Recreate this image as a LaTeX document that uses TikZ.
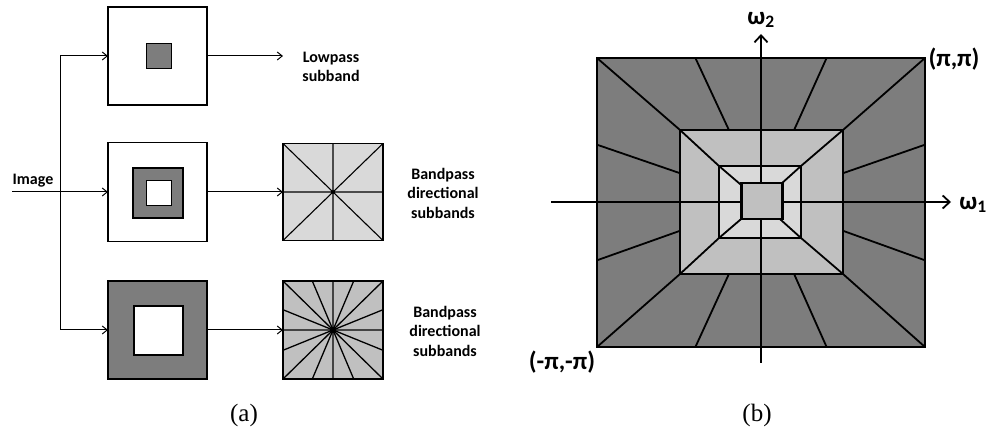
\documentclass[tikz,border=0pt]{standalone}
\usepackage{fontspec}
\setmainfont{Carlito}
\newfontfamily\capfont{Liberation Serif}
\usetikzlibrary{arrows.meta,positioning,calc}
\definecolor{band}{RGB}{125,125,125}
\definecolor{ring}{RGB}{192,192,192}
\definecolor{pale}{RGB}{217,217,217}

\begin{document}
\begin{tikzpicture}[x=1pt,y=-1pt,>={Straight Barb[length=5pt,width=8pt]},
  font=\bfseries\fontsize{16}{19.5}\selectfont,
  sq/.style={draw,line width=1.1pt,inner sep=0pt,outer sep=0pt},
  arr/.style={->,line width=1pt},
  ray/.style={line width=1.8pt},
  axis/.style={-{Straight Barb[length=7pt,width=13pt]},line width=1.8pt},
  lbl/.style={align=center,inner sep=0pt},
  greek/.style={inner sep=0pt,font=\bfseries\fontsize{25}{25}\selectfont},
  figcap/.style={inner sep=0pt,font=\capfont\fontsize{25}{25}\selectfont}]
\useasboundingbox (0,0) rectangle (996,435);
% (a) filter bank
\node[sq,minimum width=99pt,minimum height=98pt] (lp) at (157.5,56) {};
\node[sq,fill=band,minimum size=25pt] (lpin) at (159,56) {};
\node[sq,minimum width=99pt,minimum height=99pt] (bp1) at (157.5,192) {};
\node[sq,fill=band,minimum size=50pt] (bp1out) at (158,193) {};
\node[sq,fill=white,minimum size=25pt] (bp1in) at (159,193) {};
\node[sq,fill=band,minimum width=99pt,minimum height=98pt] (bp2) at (157.5,330) {};
\node[sq,fill=white,minimum size=49pt] (bp2in) at (158.5,330.5) {};
\node[sq,fill=pale,minimum width=100pt,minimum height=97pt] (dir8) at (333,192) {};
\node[sq,fill=ring,minimum width=100pt,minimum height=98pt] (dir16) at (333,330) {};
\draw[line width=1.1pt] (dir8.north west) -- (dir8.south east)
  (dir8.north east) -- (dir8.south west) (dir8.north) -- (dir8.south)
  (dir8.west) -- (dir8.east);
\fill (dir8.center) circle (1.8);
\draw[line width=1.3pt] (dir16.north west) -- (dir16.south east)
  (dir16.north east) -- (dir16.south west) (dir16.north) -- (dir16.south)
  (dir16.west) -- (dir16.east);
\foreach \f in {0.293,0.707}
  \draw[line width=1.3pt]
    ($(dir16.north west)!\f!(dir16.north east)$) -- ($(dir16.south east)!\f!(dir16.south west)$)
    ($(dir16.north west)!\f!(dir16.south west)$) -- ($(dir16.south east)!\f!(dir16.north east)$);
\fill (dir16.center) circle (3.2);
\coordinate (img) at (12,192);
\coordinate (split) at (60,192);
\coordinate (lpend) at (283,56);
\node[lbl] (imgtxt) at (33,181) {Image};
\draw[arr] (img) -- (bp1.west);
\draw[arr] (split) |- (lp.west);
\draw[arr] (split) |- (bp2.west);
\draw[arr] (lp.east) -- (lpend);
\draw[arr] (bp1.east) -- (dir8.west);
\draw[arr] (bp2.east) -- (dir16.west);
\node[lbl] (lptxt) at (331,67) {Lowpass\\subband};
\node[lbl] (bp8txt) at (443,193) {Bandpass\\directional\\subbands};
\node[lbl] (bp16txt) at (445,331) {Bandpass\\directional\\subbands};
\node[figcap] (capa) at (244,415) {(a)};
% (b) frequency partition
\coordinate (org) at (761,202);
\node[sq,fill=band,line width=1.5pt,minimum width=328pt,minimum height=289pt] (outer) at (761,202.5) {};
\node[sq,fill=ring,line width=1.8pt,minimum width=163pt,minimum height=144pt] (mid) at (761.5,202) {};
\node[sq,fill=pale,line width=2.8pt,minimum width=82pt,minimum height=72pt] (inner) at (760,202) {};
\foreach \c in {north west,north east,south west,south east}
  \draw[ray] (outer.\c) -- (mid.\c) -- (inner.\c) -- (org);
\foreach \f in {0.3,0.7} {
  \draw[ray] ($(outer.north west)!\f!(outer.north east)$) -- ($(mid.north west)!\f!(mid.north east)$);
  \draw[ray] ($(outer.south west)!\f!(outer.south east)$) -- ($(mid.south west)!\f!(mid.south east)$);
  \draw[ray] ($(outer.north west)!\f!(outer.south west)$) -- ($(mid.north west)!\f!(mid.south west)$);
  \draw[ray] ($(outer.north east)!\f!(outer.south east)$) -- ($(mid.north east)!\f!(mid.south east)$);
}
\draw[line width=2.8pt] (inner.north west) rectangle (inner.south east);
\coordinate (w1s) at (551,202);
\coordinate (w1e) at (951,202);
\coordinate (w2s) at (761,363);
\coordinate (w2e) at (761,34);
\draw[axis] (w1s) -- (w1e);
\draw[axis] (w2s) -- (w2e);
\node[sq,fill=ring,line width=2.8pt,minimum width=41pt,minimum height=36pt] (core) at (762,201) {};
\node[greek] (w1) at (973,205) {ω\textsubscript{1}};
\node[greek] (w2) at (761,20) {ω\textsubscript{2}};
\node[greek] (pp) at (954,59) {(π,π)};
\node[greek] (mpp) at (562,362) {(-π,-π)};
\node[figcap] (capb) at (757,415) {(b)};
\end{tikzpicture}
\end{document}
